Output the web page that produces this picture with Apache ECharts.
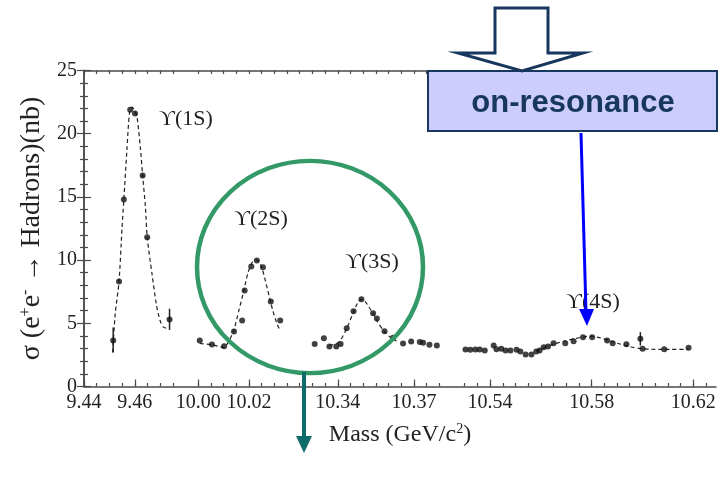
<!DOCTYPE html>
<html>
<head>
<meta charset="utf-8">
<script src="https://cdn.jsdelivr.net/npm/echarts@6/dist/echarts.min.js"></script>
<style>
html,body{margin:0;padding:0;background:#fff;}
#chart{width:723px;height:477px;}
</style>
</head>
<body>
<div id="chart"></div>
<script>
// ---- Data (mass in GeV, sigma in nb) ----
const massTickValues = [9.44, 9.46, 10.00, 10.02, 10.34, 10.37, 10.54, 10.58, 10.62];
const massTickLabels = ['9.44', '9.46', '10.00', '10.02', '10.34', '10.37', '10.54', '10.58', '10.62'];

const mass1S  = [9.4515, 9.4538, 9.4557, 9.4582, 9.4601, 9.4631, 9.4649, 9.4737];
const sigma1S = [3.64, 8.3, 14.8, 21.9, 21.6, 16.7, 11.8, 5.3];

const mass2S  = [10.0006, 10.0054, 10.0102, 10.0141, 10.0173, 10.0183, 10.0209, 10.0231, 10.0255, 10.0286, 10.0323];
const sigma2S = [3.64, 3.32, 3.19, 4.35, 5.22, 7.6, 9.5, 9.97, 9.44, 6.72, 5.22];

const mass3S  = [10.3309, 10.3345, 10.3367, 10.3394, 10.3411, 10.3435, 10.3462, 10.3493, 10.3539, 10.3554, 10.3584, 10.3618, 10.3657, 10.3689, 10.3723, 10.3736, 10.3761, 10.3790];
const sigma3S = [3.37, 3.82, 3.16, 3.16, 3.37, 4.6, 5.96, 6.9, 5.8, 5.38, 4.38, 3.85, 3.4, 3.56, 3.53, 3.46, 3.3, 3.24];

const mass4S  = [10.5303, 10.5322, 10.5342, 10.5359, 10.5379, 10.5414, 10.5425, 10.5444, 10.5461, 10.5480, 10.5504, 10.5519, 10.5540, 10.5563, 10.5582, 10.5595, 10.5611, 10.5628, 10.5650, 10.5696, 10.5729, 10.5766, 10.5802, 10.5861, 10.5883, 10.5937, 10.5992, 10.6001, 10.6086, 10.6182];
const sigma4S = [2.93, 2.9, 2.93, 2.93, 2.85, 3.24, 2.95, 2.98, 2.85, 2.85, 2.9, 2.77, 2.53, 2.53, 2.77, 2.85, 3.1, 3.16, 3.43, 3.43, 3.58, 3.9, 3.9, 3.64, 3.43, 3.35, 3.77, 2.98, 2.95, 3.06];

const errMass = [9.4515, 9.4737, 10.5992];
const errLow  = [2.69, 4.48, 3.24];
const errHigh = [4.67, 6.15, 4.30];

const fit1SMass  = [9.4513, 9.4523, 9.4538, 9.4550, 9.4557, 9.4569, 9.4579, 9.4589, 9.4598, 9.4609, 9.4622, 9.4631, 9.4642, 9.4649, 9.4668, 9.4685, 9.4700, 9.4713, 9.4729];
const fit1SSigma = [2.7, 5.75, 8.3, 12.6, 14.8, 18.7, 21.6, 22.1, 21.9, 21.3, 18.9, 16.7, 14.2, 11.8, 8.9, 6.5, 5.2, 4.7, 4.6];

const fit2SMass  = [10.0006, 10.0054, 10.0101, 10.0121, 10.0141, 10.0160, 10.0180, 10.0196, 10.0215, 10.0231, 10.0247, 10.0263, 10.0279, 10.0294, 10.0310, 10.0323];
const fit2SSigma = [3.4, 3.3, 3.1, 3.6, 4.5, 6.0, 7.6, 9.0, 9.9, 10.0, 9.6, 8.5, 7.2, 6.0, 5.0, 4.4];

const fit3SMass  = [10.3367, 10.3404, 10.3435, 10.3462, 10.3478, 10.3493, 10.3509, 10.3522, 10.3539, 10.3554, 10.3581, 10.3607, 10.3631];
const fit3SSigma = [3.25, 3.5, 4.6, 5.9, 6.6, 6.9, 6.7, 6.3, 5.8, 5.2, 4.4, 3.9, 3.6];

const fit4SMass  = [10.5582, 10.5611, 10.5650, 10.5696, 10.5736, 10.5775, 10.5802, 10.5834, 10.5874, 10.5913, 10.5952, 10.5992, 10.6031, 10.6110, 10.6182];
const fit4SSigma = [2.8, 3.05, 3.35, 3.6, 3.8, 3.95, 3.97, 3.85, 3.6, 3.35, 3.15, 3.0, 2.95, 2.93, 2.95];

const resonanceLabels = ['ϒ(1S)', 'ϒ(2S)', 'ϒ(3S)', 'ϒ(4S)'];

// ---- Broken mass axis: each segment keeps 0.005 GeV per axis unit ----
const axisSegments = [
  { upTo: 9.8,      start: 9.44,  offset: 0 },
  { upTo: 10.2,     start: 10.00, offset: 9 },
  { upTo: 10.45,    start: 10.34, offset: 20 },
  { upTo: Infinity, start: 10.54, offset: 32 }
];
function toAxis(m) {
  const s = axisSegments.find(seg => m < seg.upTo);
  return s.offset + (m - s.start) / 0.005;
}
const majorTickPos = massTickValues.map(toAxis);
const gapPos = [8, 29];
const minorTickPos = [];
for (let u = 0; u <= 49; u++) if (gapPos.indexOf(u) < 0) minorTickPos.push(u);

const pts = (ms, vs) => ms.map((m, i) => [toAxis(m), vs[i]]);

const serif = '"Liberation Serif", "DejaVu Serif", "Times New Roman", serif';
const axisColor = '#4a4a4a';

const chart = echarts.init(document.getElementById('chart'), null, { renderer: 'canvas' });

const fitStyle = { color: '#222', width: 1.2, type: [4, 3] };
function fitSeries(ms, vs) {
  return {
    type: 'line', data: pts(ms, vs), symbol: 'none', smooth: 0.25,
    lineStyle: fitStyle, silent: true, z: 2
  };
}
function resLabel(text, x, y) {
  return { type: 'text', x: x, y: y, z: 50, style: { text: text, font: '22px ' + serif, fill: '#222', align: 'center', verticalAlign: 'middle' } };
}

const option = {
  backgroundColor: '#fff',
  animation: false,
  grid: { left: 84, right: 7, top: 70.5, bottom: 90.5 },
  xAxis: [
    {
      type: 'value', position: 'bottom', min: 0, max: 49.8,
      name: 'Mass (GeV/c{sup|2})', nameLocation: 'middle', nameGap: 36,
      nameTextStyle: {
        fontFamily: serif, fontSize: 24, color: '#222',
        rich: { sup: { fontFamily: serif, fontSize: 14, color: '#222', verticalAlign: 'top', padding: [0, 0, 10, 0] } }
      },
      axisLine: { show: true, lineStyle: { color: axisColor, width: 1.5 } },
      axisTick: { show: true, inside: true, length: 7, customValues: majorTickPos, lineStyle: { color: axisColor, width: 1.2 } },
      axisLabel: {
        customValues: majorTickPos, margin: 6,
        fontFamily: serif, fontSize: 20, color: '#222',
        formatter: v => {
          const i = majorTickPos.findIndex(p => Math.abs(p - v) < 1e-6);
          return i >= 0 ? massTickLabels[i] : '';
        }
      },
      splitLine: { show: false }
    },
    {
      type: 'value', position: 'bottom', min: 0, max: 49.8,
      axisLine: { show: false },
      axisTick: { show: true, inside: true, length: 3.5, customValues: minorTickPos, lineStyle: { color: axisColor, width: 1.2 } },
      axisLabel: { show: false },
      splitLine: { show: false }
    },
    {
      type: 'value', position: 'top', min: 0, max: 49.8,
      axisLine: { show: true, lineStyle: { color: axisColor, width: 1.5 } },
      axisTick: { show: true, inside: true, length: 3.5, customValues: minorTickPos, lineStyle: { color: axisColor, width: 1.2 } },
      axisLabel: { show: false },
      splitLine: { show: false }
    }
  ],
  yAxis: [
    {
      type: 'value', position: 'left', min: 0, max: 25, interval: 5,
      name: 'σ (e{sup|+}e{sup|-} → Hadrons)(nb)', nameLocation: 'middle', nameGap: 27,
      nameTextStyle: {
        fontFamily: serif, fontSize: 28, color: '#222',
        rich: { sup: { fontFamily: serif, fontSize: 16, color: '#222', verticalAlign: 'top', padding: [0, 0, 12, 0] } }
      },
      axisLine: { show: true, lineStyle: { color: axisColor, width: 1.5 } },
      axisTick: { show: true, inside: true, length: 7, lineStyle: { color: axisColor, width: 1.2 } },
      minorTick: { show: true, splitNumber: 5, length: 4, lineStyle: { color: axisColor, width: 1.2 } },
      axisLabel: { margin: 7, fontFamily: serif, fontSize: 20, color: '#222' },
      splitLine: { show: false }
    },
    {
      type: 'value', position: 'right', min: 0, max: 25, interval: 5,
      axisLine: { show: true, lineStyle: { color: axisColor, width: 1.5 } },
      axisTick: { show: true, inside: true, length: 7, lineStyle: { color: axisColor, width: 1.2 } },
      minorTick: { show: true, splitNumber: 5, length: 4, lineStyle: { color: axisColor, width: 1.2 } },
      axisLabel: { show: false },
      splitLine: { show: false }
    }
  ],
  series: [
    fitSeries(fit1SMass, fit1SSigma),
    fitSeries(fit2SMass, fit2SSigma),
    fitSeries(fit3SMass, fit3SSigma),
    fitSeries(fit4SMass, fit4SSigma),
    {
      type: 'custom', z: 3,
      data: errMass.map((m, i) => [toAxis(m), errLow[i], errHigh[i]]),
      encode: { x: 0, y: [1, 2] },
      renderItem: (params, api) => {
        const p1 = api.coord([api.value(0), api.value(1)]);
        const p2 = api.coord([api.value(0), api.value(2)]);
        return { type: 'line', shape: { x1: p1[0], y1: p1[1], x2: p2[0], y2: p2[1] }, style: { stroke: '#222', lineWidth: 1.5 } };
      }
    },
    {
      type: 'scatter', z: 4, symbol: 'circle', symbolSize: 6,
      itemStyle: { color: '#111' },
      data: [].concat(pts(mass1S, sigma1S), pts(mass2S, sigma2S), pts(mass3S, sigma3S), pts(mass4S, sigma4S))
    }
  ],
  graphic: [
    // resonance labels
    resLabel(resonanceLabels[0], 186, 119),
    resLabel(resonanceLabels[1], 261, 219),
    resLabel(resonanceLabels[2], 372, 262),
    resLabel(resonanceLabels[3], 593, 302),
    // green highlight circle
    { type: 'circle', x: 310, y: 267, scaleY: 0.94, z: 60, shape: { cx: 0, cy: 0, r: 113 }, style: { fill: null, stroke: '#339966', lineWidth: 4.5, strokeNoScale: true } },
    // teal down arrow
    { type: 'line', z: 60, shape: { x1: 304, y1: 372, x2: 304, y2: 440 }, style: { stroke: '#0e6b6b', lineWidth: 4 } },
    { type: 'polygon', z: 60, shape: { points: [[296, 436], [312, 436], [304, 453]] }, style: { fill: '#0e6b6b' } },
    // on-resonance box
    { type: 'rect', z: 70, shape: { x: 428, y: 71, width: 289, height: 60 }, style: { fill: '#ccccff', stroke: '#17375e', lineWidth: 2 } },
    { type: 'text', x: 573, y: 103, z: 71, style: { text: 'on-resonance', font: 'bold 31px "Liberation Sans", Arial, sans-serif', fill: '#17375e', align: 'center', verticalAlign: 'middle' } },
    // hollow navy arrow
    { type: 'polygon', z: 72, shape: { points: [[495, 8], [548, 8], [548, 53], [583, 53], [522, 71], [458, 53], [495, 53]] }, style: { fill: '#fff', stroke: '#17375e', lineWidth: 3, lineJoin: 'miter' } },
    // blue arrow to Y(4S)
    { type: 'line', z: 72, shape: { x1: 581, y1: 133, x2: 586, y2: 312 }, style: { stroke: '#0000ff', lineWidth: 3 } },
    { type: 'polygon', z: 72, shape: { points: [[579, 309], [594, 309], [587, 326]] }, style: { fill: '#0000ff' } }
  ]
};
chart.setOption(option);
</script>
</body>
</html>
